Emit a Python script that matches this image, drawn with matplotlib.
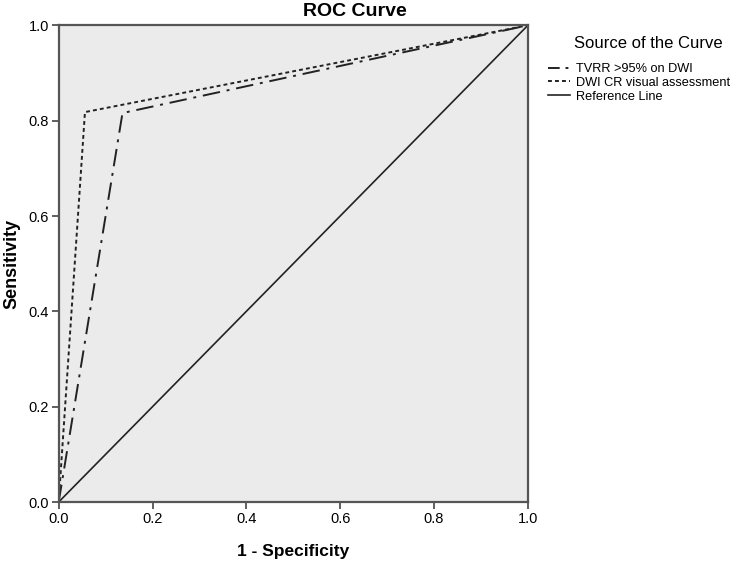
import matplotlib

matplotlib.use("Agg")
import matplotlib.pyplot as plt
from matplotlib.lines import Line2D

# ROC points (1 - specificity, sensitivity)
TVRR_FPR = [0.0, 0.136, 1.0]
TVRR_TPR = [0.0, 0.816, 1.0]
DWI_FPR = [0.0, 0.056, 1.0]
DWI_TPR = [0.0, 0.818, 1.0]
REF_FPR = [0.0, 1.0]
REF_TPR = [0.0, 1.0]

TICKS = [0.0, 0.2, 0.4, 0.6, 0.8, 1.0]
LABELS = ["TVRR >95% on DWI", "DWI CR visual assessment", "Reference Line"]

plt.rcParams["font.family"] = ["Liberation Sans", "DejaVu Sans"]

fig = plt.figure(figsize=(7.4, 5.63), dpi=100)
ax = fig.add_axes([0.0793, 0.1083, 0.634, 0.8467])
ax.set_facecolor("#ebebeb")

dashdot = (0, (9, 3.5, 1.5, 3.5))
dotted = (0, (2, 1.6))

ax.plot(TVRR_FPR, TVRR_TPR, color="#222222", lw=1.4, ls=dashdot)
ax.plot(DWI_FPR, DWI_TPR, color="#222222", lw=1.4, ls=dotted)
ax.plot(REF_FPR, REF_TPR, color="#222222", lw=1.2, ls="-")

ax.set_xlim(0, 1)
ax.set_ylim(0, 1)
ax.set_xticks(TICKS)
ax.set_yticks(TICKS)
ax.set_xticklabels([f"{t:.1f}" for t in TICKS], fontsize=10.5)
ax.set_yticklabels([f"{t:.1f}" for t in TICKS], fontsize=10.5)
ax.tick_params(direction="out", length=5, width=1.2, color="#444444", pad=2)
for s in ax.spines.values():
    s.set_color("#555555")
    s.set_linewidth(1.6)

ax.set_xlabel("1 - Specificity", fontsize=12.5, fontweight="bold", labelpad=13)
ax.set_ylabel("Sensitivity", fontsize=13, fontweight="bold", labelpad=6)
fig.text(355 / 740, 1 - 11 / 563, "ROC Curve", ha="center", va="center", fontsize=14, fontweight="bold")

# legend title placed separately, entries below it
fig.text(648 / 740, 1 - 43 / 563, "Source of the Curve", ha="center", va="center", fontsize=12)
handles = [
    Line2D([0], [0], color="#222222", lw=1.4, ls=(0, (6, 3, 1.5, 3))),
    Line2D([0], [0], color="#222222", lw=1.4, ls=dotted),
    Line2D([0], [0], color="#222222", lw=1.2, ls="-"),
]
fig.legend(
    handles,
    LABELS,
    loc="upper left",
    bbox_to_anchor=(548 / 740, 1 - 63 / 563),
    frameon=False,
    fontsize=9.2,
    handlelength=1.7,
    handletextpad=0.5,
    labelspacing=0.15,
    borderpad=0,
    borderaxespad=0,
)

fig.savefig("out.png", dpi=100)
